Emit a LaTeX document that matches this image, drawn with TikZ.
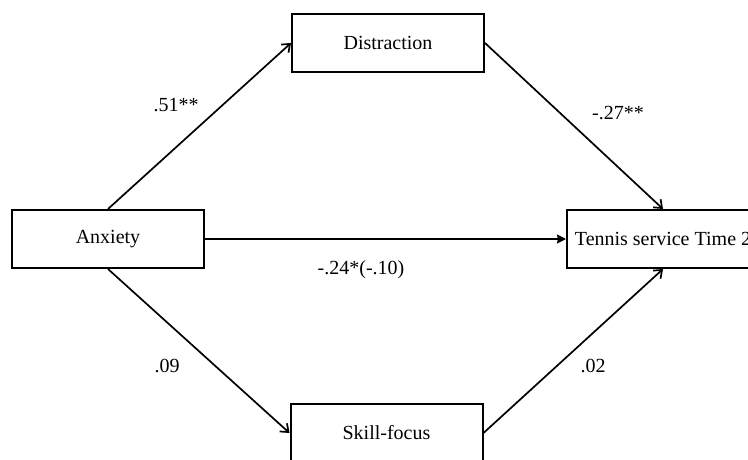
\documentclass[tikz,border=0pt]{standalone}
\usepackage{fontspec}
\setmainfont{Liberation Serif}
\usetikzlibrary{arrows.meta}

\begin{document}
\begin{tikzpicture}[
  x=1pt, y=-1pt,
  varsty/.style={draw, line width=2pt, minimum width=192pt, minimum height=58pt, inner sep=0pt, font=\fontsize{20}{24}\selectfont},
  coefsty/.style={inner sep=0pt, font=\fontsize{20}{24}\selectfont},
  arrow/.style={line width=1.7pt, -{Straight Barb[length=7pt,width=11pt,line width=1.7pt]}},
  arrowFill/.style={line width=1.7pt, -{Stealth[length=9pt,width=9pt,inset=1pt]}}]

\useasboundingbox (0,0) rectangle (748,460);

% variables
\node[varsty] (anx)    at (108,239) {Anxiety};
\node[varsty] (dist)   at (388,43)    {Distraction};
\node[varsty] (skill)  at (386.5,433) {Skill-focus};
\node[varsty] (tennis) at (663,239)   {Tennis service Time 2};

% paths
\draw[arrow] (anx.north) -- (dist.west);
\draw[arrow] (dist.east) -- (tennis.north);
\draw[arrowFill] (anx.east) -- (tennis.west);
\draw[arrow] (anx.south) -- (skill.west);
\draw[arrow] (skill.east) -- (tennis.south);

% coefficients
\node[coefsty] (c1) at (176,105) {.51**};
\node[coefsty] (c2) at (618,113) {-.27**};
\node[coefsty] (c3) at (361,270) {-.24*(-.10)};
\node[coefsty] (c4) at (167,366) {.09};
\node[coefsty] (c5) at (593,366) {.02};

\end{tikzpicture}
\end{document}
